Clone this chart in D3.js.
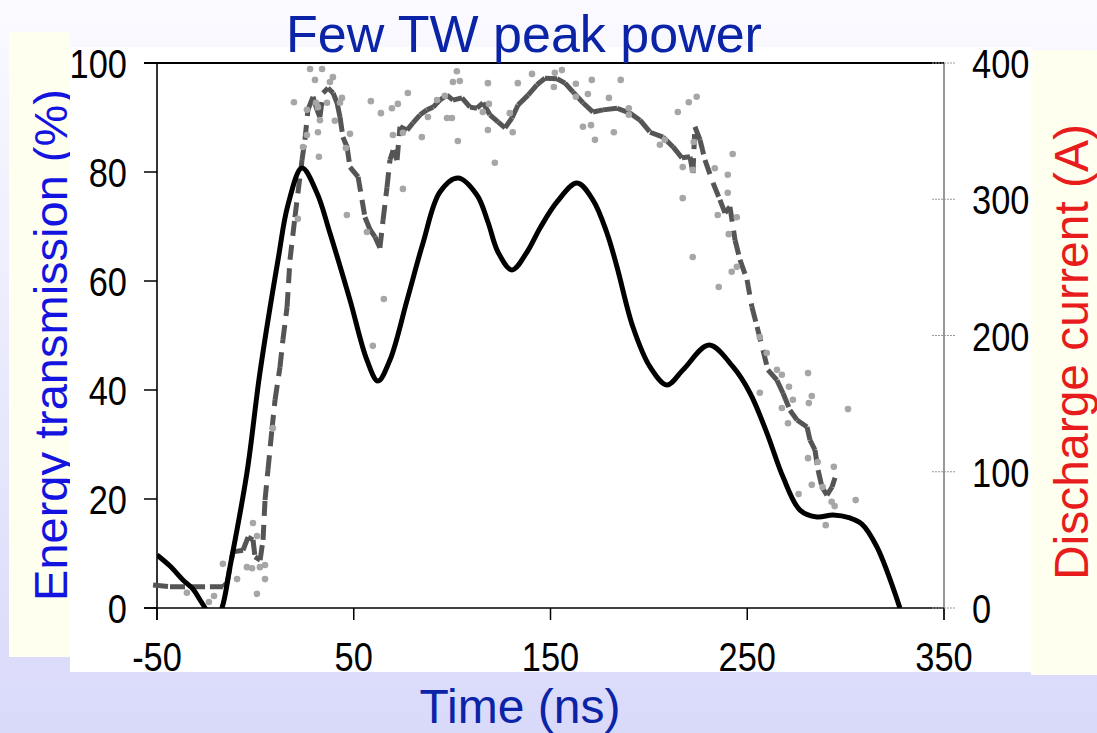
<!DOCTYPE html>
<html>
<head>
<meta charset="utf-8">
<script src="https://cdn.jsdelivr.net/npm/d3@7.9.0/dist/d3.min.js"></script>
<style>
  html, body { margin: 0; padding: 0; }
  svg { display: block; font-family: "Liberation Sans", Arial, sans-serif; }
</style>
</head>
<body>
<div id="chart"></div>
<script>
// axis ticks
const timeTicks = [-50, 50, 150, 250, 350];
const pctTicks = [0, 20, 40, 60, 80, 100];
const ampTicks = [0, 100, 200, 300, 400];

// discharge current (A), solid black
const currentT = [-50, -43.4, -36.8, -31.7, -28.1, -25.6, -21.3, -17, -12.9, -4.3, 2.3, 11.5, 16.6, 23.7, 31.3, 37.9, 48.1, 56.7, 62.3, 68.4, 77.1, 85.2, 93.8, 103, 112.6, 118.2, 123.3, 130.4, 138.1, 144.7, 153.3, 163.5, 171.6, 178.7, 183.8, 191.9, 200.6, 209.2, 217.3, 230.6, 242.8, 251.4, 260, 268.2, 276.8, 285.5, 293.6, 302.2, 308.3, 315.9, 327.6];
const currentA = [38.9, 30.8, 20.6, 13.9, 5.9, 0, -12, 0, 30.1, 99.1, 172.5, 255.4, 296, 322.9, 304.6, 275.2, 226, 182, 166.6, 182, 226, 267.9, 305.3, 315.6, 303.1, 283.3, 261.3, 248.1, 261.3, 278.9, 298, 311.9, 299.4, 275.2, 250.3, 206.2, 176.9, 163.7, 174.7, 193, 176.9, 157.8, 128.4, 96.1, 71.9, 66.8, 68.3, 66.1, 61.6, 44.8, 0];

// energy transmission (%), smoothed, grey dashed
const transT = [-52, -43.4, -33.2, -23.1, -16.5, -14.4, -11.4, -6.3, -3.7, -1.2, -0.2, 2.4, 3.9, 4.9, 6.4, 8.4, 10, 12.5, 14, 16.1, 17.6, 20.1, 23.7, 25.2, 26.7, 29.3, 31.3, 32.8, 34.4, 36.9, 39.5, 41.5, 43, 44.5, 46.6, 48.1, 52.2, 54.2, 55.7, 58.3, 60.8, 63.3, 64.9, 66.9, 68.4, 70, 72, 73.5, 77.1, 80.1, 83.7, 87.2, 90.3, 93.8, 97.4, 100.4, 105, 109.1, 112.6, 115.7, 119.2, 123.3, 126.9, 130.4, 133.5, 138.6, 143.1, 147.2, 153.3, 157.4, 161.4, 166.5, 171.6, 176.7, 183.8, 190.4, 195.5, 200.6, 207.2, 212.3, 216.8, 220.9, 222.4, 223.4, 226, 228.5, 232.6, 236.1, 238.7, 241.2, 243.8, 246.3, 249.9, 252.4, 255, 258, 260.5, 265.1, 268.2, 271.7, 275.3, 280.4, 281.9, 284.4, 286, 288, 290.5, 293.1, 294.6];
const transPct = [4.2, 3.9, 3.9, 3.9, 3.9, 4.6, 10.3, 10.6, 13, 12.5, 9.4, 8.8, 12.5, 19.8, 25.3, 32.7, 38.2, 44.2, 49.2, 55.2, 63.9, 71.7, 82.2, 85.9, 91.4, 93.8, 91.4, 90.1, 94.5, 95.4, 94.5, 92.7, 90.1, 86.4, 84.6, 80.9, 79.1, 74.9, 71.7, 69.4, 68.1, 66.1, 71.2, 77.2, 82.2, 84, 82.2, 88.3, 87.7, 89, 90.5, 91.4, 91.9, 93.2, 94.1, 93.2, 93.6, 91.9, 91.7, 92.7, 90.5, 89.2, 88.1, 89.9, 92.3, 94.1, 96, 97.2, 97.1, 96.3, 94.7, 92.7, 91, 91.4, 91.7, 90.8, 89.5, 87.3, 86.4, 84.6, 82.6, 82.8, 79.8, 88.3, 85.9, 82.2, 78, 74.9, 72.5, 73.6, 67.5, 63.9, 60.2, 55.2, 51.6, 47.3, 43.7, 41.8, 39.4, 36.3, 34.5, 33.2, 30.8, 29, 25.3, 22.2, 20.7, 22.2, 23.9];

// single-shot measurements (%), light grey dots
const shotT = [-34.8, -23.6, -21, -16.5, -9.3, -1.2, 0.8, -4.3, -1.7, 2.3, 4.9, 4.9, 0.8, 8.9, 21.6, 24.2, 26.2, 26.2, 19.6, 27.8, 33.9, 30.3, 39.4, 37.9, 30.8, 31.8, 36.4, 44, 43, 40.4, 32.8, 31.8, 32.3, 48.1, 46, 46.5, 56.7, 65.3, 59.7, 58.7, 63.8, 69.4, 72.4, 77.5, 69.9, 75, 84.6, 87.7, 92.3, 96.3, 97.4, 75, 102.4, 103.9, 100.4, 99.9, 102.9, 118.2, 118.7, 115.6, 118.2, 121.7, 133.4, 129.3, 130.8, 140.6, 152.2, 155.8, 151.7, 162.9, 162.9, 169, 171, 166.5, 170.6, 172.6, 179.7, 182.2, 185.7, 189.8, 189.8, 205.6, 208.1, 214.7, 220.3, 224.3, 217.2, 222.3, 222.8, 217.2, 222.3, 233.5, 242.6, 240.1, 240.1, 235, 244.7, 240.6, 242.1, 244.7, 235.5, 256.4, 259.9, 256.4, 265.1, 267.6, 271.2, 273.2, 267.6, 270.7, 280.9, 282.8, 281.3, 301.2, 280.9, 285.8, 294, 282.8, 276.1, 288.3, 292.9, 294.4, 305.1, 289.9];
const shotPct = [2.8, 1.1, 2.2, 8.1, 5.3, 15.6, 13.2, 7.5, 7.3, 7.5, 7.9, 5.3, 2.6, 33, 71.4, 84.6, 86.8, 91.4, 92.8, 98.9, 98.9, 96.9, 97.4, 96.5, 92.7, 91.9, 92.7, 93.6, 92.7, 89.4, 89.5, 87.3, 82.8, 87, 84.4, 72.1, 69, 56.7, 48.1, 93, 90.8, 91.7, 92.5, 94.5, 86.8, 87.2, 86.4, 90.1, 93.2, 94, 89.9, 76.9, 98.5, 96.7, 96.5, 89.9, 85.7, 96.3, 92.5, 91, 87.7, 81.7, 96.3, 90.8, 87.3, 98, 98.2, 98.7, 95.6, 96.2, 93.8, 94.3, 96.9, 88.3, 88.6, 85.9, 93.6, 87.3, 96.9, 91.7, 90.5, 85, 85.9, 91, 92.8, 93.8, 80.9, 80.4, 85.5, 75.2, 64.4, 80.7, 83.3, 79.5, 76.2, 72.1, 71.7, 68.6, 61.7, 62.6, 58.9, 49.7, 46.8, 39.5, 43.7, 42.8, 40.6, 38.2, 36.7, 33.9, 43.1, 38.9, 37.6, 36.5, 27.5, 26.8, 25.9, 22.6, 20.9, 22.2, 19.5, 18.7, 19.8, 15.2];

const W = 1097, H = 733;
const svg = d3.select('#chart').append('svg').attr('width', W).attr('height', H);

const defs = svg.append('defs');
const bg = defs.append('linearGradient').attr('id', 'bg')
  .attr('x1', 0).attr('y1', 0).attr('x2', 0).attr('y2', 1);
bg.append('stop').attr('offset', '0%').attr('stop-color', '#fafaff');
bg.append('stop').attr('offset', '100%').attr('stop-color', '#d9d9fa');

defs.append('clipPath').attr('id', 'plot')
  .append('rect').attr('x', 157).attr('y', 60).attr('width', 787).attr('height', 548);

svg.append('rect').attr('width', W).attr('height', H).attr('fill', 'url(#bg)');

// side panels with axis titles
svg.append('rect').attr('x', 9).attr('y', 32).attr('width', 61).attr('height', 625).attr('fill', '#fffff0');
svg.append('rect').attr('x', 1031).attr('y', 50).attr('width', 66).attr('height', 625).attr('fill', '#fffff0');

svg.append('text')
  .attr('transform', 'translate(67,345) rotate(-90)')
  .attr('text-anchor', 'middle')
  .attr('font-size', 47)
  .attr('fill', '#1414e0')
  .text('Energy transmission (%)');

svg.append('text')
  .attr('transform', 'translate(1088,352) rotate(-90)')
  .attr('text-anchor', 'middle')
  .attr('font-size', 48)
  .attr('fill', '#e81c1c')
  .text('Discharge current (A)');

// white chart card
svg.append('rect').attr('x', 70).attr('y', 47).attr('width', 961).attr('height', 625).attr('fill', '#fff');

const x = d3.scaleLinear().domain([-50, 350]).range([157, 944]);
const yL = d3.scaleLinear().domain([0, 100]).range([608, 63]);
const yR = d3.scaleLinear().domain([0, 400]).range([608, 63]);

// frame and axes
svg.append('line').attr('x1', 144).attr('x2', 944).attr('y1', yL(100)).attr('y2', yL(100))
  .attr('stroke', '#000').attr('stroke-width', 2);
svg.append('line').attr('x1', 144).attr('x2', 944).attr('y1', yL(0)).attr('y2', yL(0))
  .attr('stroke', '#000').attr('stroke-width', 1.6);
svg.append('line').attr('x1', x(-50)).attr('x2', x(-50)).attr('y1', yL(100)).attr('y2', 620)
  .attr('stroke', '#000').attr('stroke-width', 1.6);
svg.append('line').attr('x1', x(350)).attr('x2', x(350)).attr('y1', yL(100)).attr('y2', 620)
  .attr('stroke', '#555').attr('stroke-width', 1.2);

svg.append('g').selectAll('line').data(pctTicks).join('line')
  .attr('x1', 144).attr('x2', 157).attr('y1', d => yL(d)).attr('y2', d => yL(d))
  .attr('stroke', '#000').attr('stroke-width', 1.5);
svg.append('g').selectAll('line').data(timeTicks).join('line')
  .attr('x1', d => x(d)).attr('x2', d => x(d)).attr('y1', 608).attr('y2', 620)
  .attr('stroke', '#000').attr('stroke-width', 1.5);
svg.append('g').selectAll('line').data(ampTicks).join('line')
  .attr('x1', 932).attr('x2', 956).attr('y1', d => yR(d)).attr('y2', d => yR(d))
  .attr('stroke', '#999').attr('stroke-width', 1).attr('stroke-dasharray', '2,1');

const tickFont = 40, squeeze = 0.86;
svg.append('g').selectAll('text').data(pctTicks).join('text')
  .attr('transform', d => `translate(127,${yL(d) + 15}) scale(${squeeze},1)`)
  .attr('text-anchor', 'end').attr('font-size', tickFont).attr('fill', '#000')
  .text(d => d);
svg.append('g').selectAll('text').data(ampTicks).join('text')
  .attr('transform', d => `translate(972,${yR(d) + 15}) scale(${squeeze},1)`)
  .attr('text-anchor', 'start').attr('font-size', tickFont).attr('fill', '#000')
  .text(d => d);
svg.append('g').selectAll('text').data(timeTicks).join('text')
  .attr('transform', d => `translate(${x(d)},671) scale(${squeeze},1)`)
  .attr('text-anchor', 'middle').attr('font-size', tickFont).attr('fill', '#000')
  .text(d => d);

// transmission: dash pattern restarts on every segment
const transPts = transT.map((t, i) => [x(t), yL(transPct[i])]);
svg.append('g').selectAll('line').data(d3.pairs(transPts)).join('line')
  .attr('x1', d => d[0][0]).attr('y1', d => d[0][1])
  .attr('x2', d => d[1][0]).attr('y2', d => d[1][1])
  .attr('stroke', '#555').attr('stroke-width', 5)
  .attr('stroke-dasharray', '15,9');

svg.append('g').selectAll('circle').data(shotT).join('circle')
  .attr('cx', d => x(d)).attr('cy', (d, i) => yL(shotPct[i]))
  .attr('r', 3.3).attr('fill', '#a6a6a6');

const current = d3.line()
  .x(d => x(d[0])).y(d => yR(d[1]))
  .curve(d3.curveCatmullRom.alpha(0.5));
svg.append('path')
  .datum(currentT.map((t, i) => [t, currentA[i]]))
  .attr('clip-path', 'url(#plot)')
  .attr('d', current)
  .attr('fill', 'none').attr('stroke', '#000').attr('stroke-width', 5)
  .attr('stroke-linejoin', 'round');

// titles
svg.append('text').attr('x', 524).attr('y', 52)
  .attr('text-anchor', 'middle').attr('font-size', 52).attr('fill', '#0b23a6')
  .text('Few TW peak power');
svg.append('text').attr('x', 520).attr('y', 723)
  .attr('text-anchor', 'middle').attr('font-size', 48).attr('fill', '#0b23a6')
  .text('Time (ns)');
</script>
</body>
</html>
